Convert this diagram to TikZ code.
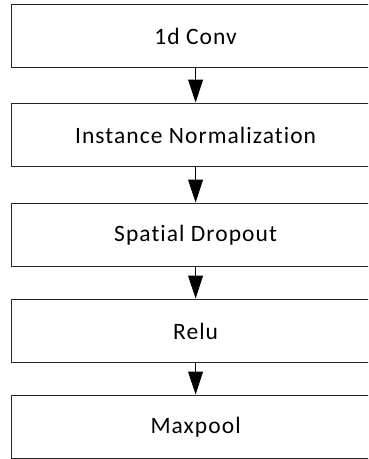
\documentclass[tikz,border=0pt]{standalone}
\usepackage{fontspec}
\setmainfont{Carlito}[LetterSpace=4.5,Ligatures=NoCommon]
\usetikzlibrary{arrows.meta}
\begin{document}
\begin{tikzpicture}[x=1pt,y=-1pt,
  stage/.style={draw=black!85, line width=1.2pt, minimum width=368pt, minimum height=63pt,
    inner sep=0pt, font=\fontsize{23.5}{28}\selectfont, anchor=north west},
  flow/.style={line width=1pt, -{Triangle[length=23pt,width=15pt]}, shorten >=0.5pt}]
\useasboundingbox (0,0) rectangle (368,459);
\begin{scope}
\clip (0,0) rectangle (368,459);
\node[stage] (conv) at (11,4) {1d Conv};
\node[stage] (norm) at (11,103) {Instance Normalization};
\node[stage] (drop) at (11,203) {Spatial Dropout};
\node[stage] (relu) at (11,299) {Relu};
\node[stage] (pool) at (11,395) {Maxpool};
\end{scope}
\draw[flow] (conv.south) -- (norm.north);
\draw[flow] (norm.south) -- (drop.north);
\draw[flow] (drop.south) -- (relu.north);
\draw[flow] (relu.south) -- (pool.north);
\end{tikzpicture}
\end{document}
